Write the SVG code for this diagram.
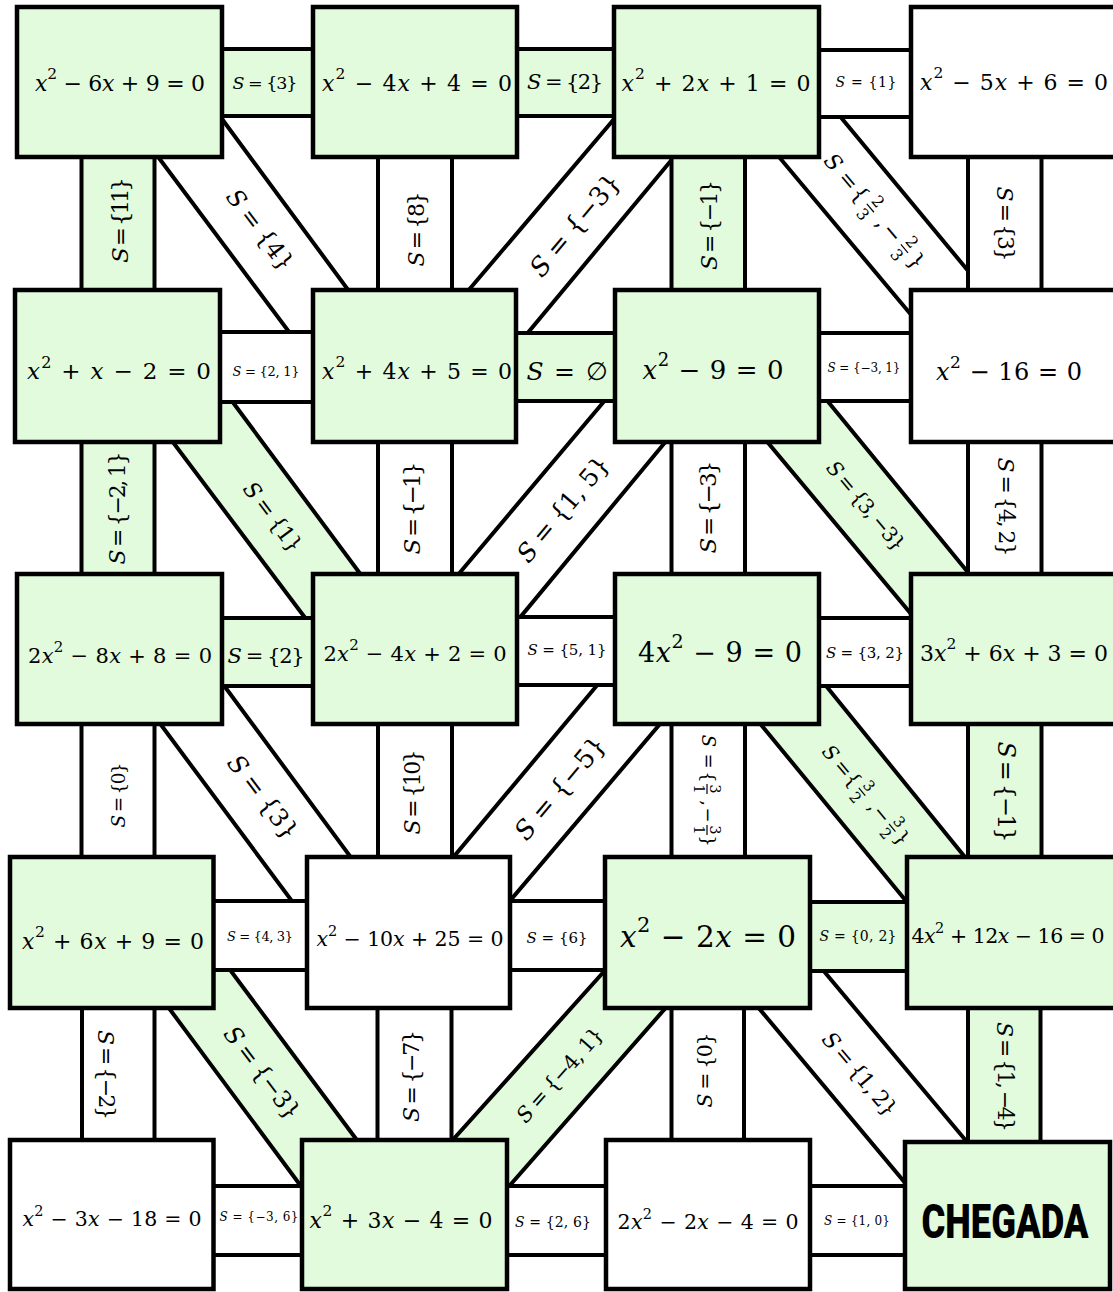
<svg xmlns="http://www.w3.org/2000/svg" width="1113" height="1292" viewBox="0 0 1113 1292">
<style>
.b{stroke:#000;stroke-width:4.5}
.c{stroke:#000;stroke-width:4}
.g{fill:#e1fbdc}
.w{fill:#fff}
text{font-family:"DejaVu Serif","Liberation Serif",serif;fill:#000;text-anchor:middle;dominant-baseline:central}
.i{font-style:italic}
.fb{stroke:#000;stroke-width:1.2}
.ch{font-family:Roboto,"Liberation Sans",sans-serif;font-weight:900}
</style>
<rect width="1113" height="1292" fill="#fff"/>
<g id="connectors">
<g id="d11"><polygon class="c w" points="211,104 360,306 301,348 147,142"/><text transform="translate(260 230) rotate(53)" font-size="24" textLength="95"><tspan class="i">S</tspan> = {4}</text></g>
<g id="d21"><polygon class="c g" points="220,385 373,591 315,631 160,425"/><text transform="translate(273 517) rotate(53)" font-size="22" textLength="82"><tspan class="i">S</tspan> = {1}</text></g>
<g id="d31"><polygon class="c w" points="214,672 361,871 303,916 150,710"/><text transform="translate(263 797) rotate(53)" font-size="25" textLength="99"><tspan class="i">S</tspan> = {3}</text></g>
<g id="d41"><polygon class="c g" points="219,955 368,1155 312,1201 157,992"/><text transform="translate(262 1073) rotate(53)" font-size="24" textLength="110"><tspan class="i">S</tspan> = {−3}</text></g>
<g id="d12"><polygon class="c w" points="626,105 456,305 516,347 684,145"/><text transform="translate(575 225) rotate(-50)" font-size="26" textLength="125"><tspan class="i">S</tspan> = {−3}</text></g>
<g id="d22"><polygon class="c w" points="617,386 446,589 508,632 677,428"/><text transform="translate(563 509) rotate(-50)" font-size="25" textLength="129"><tspan class="i">S</tspan> = {1, 5}</text></g>
<g id="d32"><polygon class="c w" points="609,671 441,872 498,915 671,711"/><text transform="translate(560 788) rotate(-50)" font-size="26" textLength="126"><tspan class="i">S</tspan> = {−5}</text></g>
<g id="d42"><polygon class="c g" points="617,957 441,1153 497,1200 677,995"/><text transform="translate(560 1075) rotate(-48.5)" font-size="21" textLength="119"><tspan class="i">S</tspan> = {−4, 1}</text></g>
<g id="d13"><polygon class="c w" points="829,103 979,284 923,329 769,145"/>
<g transform="translate(875 212) rotate(50)" font-size="22">
<text x="-65" class="i">S</text><text x="-41">=</text><text x="-23">{</text>
<text x="-6" y="-9" font-size="16">2</text><line class="fb" x1="-11.5" y1="1" x2="-0.5" y2="1"/><text x="-6" y="11" font-size="16">3</text>
<text x="12">,</text><text x="27">−</text>
<text x="47" y="-9" font-size="16">2</text><line class="fb" x1="41.5" y1="1" x2="52.5" y2="1"/><text x="47" y="11" font-size="16">3</text>
<text x="64">}</text></g></g>
<g id="d23"><polygon class="c g" points="816,387 980,587 922,627 754,426"/><text transform="translate(866 506) rotate(50)" font-size="20.5" textLength="110"><tspan class="i">S</tspan> = {3, −3}</text></g>
<g id="d33"><polygon class="c g" points="814,671 977,872 920,918 749,710"/>
<g transform="translate(866 795) rotate(50)" font-size="20">
<text x="-55" class="i">S</text><text x="-35">=</text><text x="-20">{</text>
<text x="-5" y="-8" font-size="15">3</text><line class="fb" x1="-10" y1="1" x2="0" y2="1"/><text x="-5" y="10" font-size="15">2</text>
<text x="13">,</text><text x="25">−</text>
<text x="42" y="-8" font-size="15">3</text><line class="fb" x1="37" y1="1" x2="47" y2="1"/><text x="42" y="10" font-size="15">2</text>
<text x="56">}</text></g></g>
<g id="d43"><polygon class="c w" points="812,957 978,1155 917,1197 747,994"/><text transform="translate(860 1074) rotate(50)" font-size="22" textLength="103"><tspan class="i">S</tspan> = {1, 2}</text></g>

<g id="h11"><rect class="c g" x="215" y="49" width="105" height="67"/><text x="265" y="83" font-size="17.5" textLength="65"><tspan class="i">S</tspan> = {3}</text></g>
<g id="h12"><rect class="c g" x="510" y="49" width="111" height="67"/><text x="565" y="82" font-size="21" textLength="76"><tspan class="i">S</tspan> = {2}</text></g>
<g id="h13"><rect class="c w" x="812" y="50" width="106" height="67"/><text x="866" y="82" font-size="14" textLength="61"><tspan class="i">S</tspan> = {1}</text></g>
<g id="h21"><rect class="c w" x="213" y="332" width="107" height="70"/><text x="266" y="371" font-size="13" textLength="67"><tspan class="i">S</tspan> = {2, 1}</text></g>
<g id="h22"><rect class="c g" x="509" y="333" width="113" height="68"/><text x="567" y="371" font-size="25" textLength="81"><tspan class="i">S</tspan> = ∅</text></g>
<g id="h23"><rect class="c w" x="812" y="333" width="106" height="68"/><text x="864" y="368" font-size="12" textLength="73"><tspan class="i">S</tspan> = {−3, 1}</text></g>
<g id="h31"><rect class="c g" x="215" y="618" width="105" height="68"/><text x="266" y="656" font-size="21" textLength="77"><tspan class="i">S</tspan> = {2}</text></g>
<g id="h32"><rect class="c w" x="510" y="617" width="112" height="68"/><text x="567" y="650" font-size="15" textLength="79"><tspan class="i">S</tspan> = {5, 1}</text></g>
<g id="h33"><rect class="c w" x="812" y="618" width="106" height="68"/><text x="865" y="653" font-size="15" textLength="78"><tspan class="i">S</tspan> = {3, 2}</text></g>
<g id="h41"><rect class="c w" x="206" y="901" width="108" height="69"/><text x="260" y="936" font-size="13" textLength="66"><tspan class="i">S</tspan> = {4, 3}</text></g>
<g id="h42"><rect class="c w" x="503" y="901" width="109" height="69"/><text x="557" y="938" font-size="15" textLength="61"><tspan class="i">S</tspan> = {6}</text></g>
<g id="h43"><rect class="c g" x="803" y="902" width="111" height="69"/><text x="858" y="936" font-size="14" textLength="77"><tspan class="i">S</tspan> = {0, 2}</text></g>
<g id="h51"><rect class="c w" x="206" y="1186" width="103" height="69"/><text x="259" y="1217" font-size="12" textLength="79"><tspan class="i">S</tspan> = {−3, 6}</text></g>
<g id="h52"><rect class="c w" x="500" y="1186" width="113" height="69"/><text x="553" y="1222" font-size="14" textLength="76"><tspan class="i">S</tspan> = {2, 6}</text></g>
<g id="h53"><rect class="c w" x="803" y="1186" width="109" height="69"/><text x="857" y="1221" font-size="12" textLength="66"><tspan class="i">S</tspan> = {1, 0}</text></g>

<g id="v11"><rect class="c g" x="81.5" y="150" width="73" height="147"/><text transform="translate(120 220) rotate(-90)" font-size="23" textLength="86"><tspan class="i">S</tspan> = {11}</text></g>
<g id="v12"><rect class="c w" x="378" y="150" width="74" height="147"/><text transform="translate(416 229) rotate(-90)" font-size="22" textLength="75"><tspan class="i">S</tspan> = {8}</text></g>
<g id="v13"><rect class="c g" x="671.5" y="150" width="73.5" height="147"/><text transform="translate(709 225) rotate(-90)" font-size="22" textLength="90"><tspan class="i">S</tspan> = {−1}</text></g>
<g id="v14"><rect class="c w" x="968" y="150" width="73.5" height="147"/><text transform="translate(1005 224) rotate(90)" font-size="22" textLength="75"><tspan class="i">S</tspan> = {3}</text></g>
<g id="v21"><rect class="c g" x="81.5" y="435" width="73" height="146"/><text transform="translate(117 508) rotate(-90)" font-size="22" textLength="113"><tspan class="i">S</tspan> = {−2, 1}</text></g>
<g id="v22"><rect class="c w" x="378" y="435" width="74" height="146"/><text transform="translate(412 508) rotate(-90)" font-size="23" textLength="93"><tspan class="i">S</tspan> = {−1}</text></g>
<g id="v23"><rect class="c w" x="671.5" y="435" width="73.5" height="146"/><text transform="translate(708 507) rotate(-90)" font-size="23" textLength="93"><tspan class="i">S</tspan> = {−3}</text></g>
<g id="v24"><rect class="c w" x="968" y="435" width="73.5" height="146"/><text transform="translate(1006 507) rotate(90)" font-size="22" textLength="99"><tspan class="i">S</tspan> = {4, 2}</text></g>
<g id="v31"><rect class="c w" x="81.5" y="717" width="73" height="147"/><text transform="translate(118 795) rotate(-90)" font-size="18.5" textLength="65"><tspan class="i">S</tspan> = {0}</text></g>
<g id="v32"><rect class="c w" x="378" y="717" width="74" height="147"/><text transform="translate(412 792) rotate(-90)" font-size="22" textLength="85"><tspan class="i">S</tspan> = {10}</text></g>
<g id="v33"><rect class="c w" x="671.5" y="717" width="73.5" height="147"/>
<g transform="translate(708 790) rotate(90)" font-size="18">
<text x="-49" class="i">S</text><text x="-29">=</text><text x="-13">{</text>
<text x="-1" y="-7" font-size="14">3</text><line class="fb" x1="-6" y1="1" x2="4" y2="1"/><text x="-1" y="9" font-size="14">1</text>
<text x="13">,</text><text x="25">−</text>
<text x="40" y="-7" font-size="14">3</text><line class="fb" x1="35" y1="1" x2="45" y2="1"/><text x="40" y="9" font-size="14">1</text>
<text x="51">}</text></g></g>
<g id="v34"><rect class="c g" x="968" y="717" width="73.5" height="147"/><text transform="translate(1006 792) rotate(90)" font-size="24" textLength="101"><tspan class="i">S</tspan> = {−1}</text></g>
<g id="v41"><rect class="c w" x="82" y="1001" width="72.5" height="146"/><text transform="translate(106 1075) rotate(90)" font-size="22" textLength="90"><tspan class="i">S</tspan> = {−2}</text></g>
<g id="v42"><rect class="c w" x="377.5" y="1001" width="74" height="146"/><text transform="translate(411 1076) rotate(-90)" font-size="22" textLength="92"><tspan class="i">S</tspan> = {−7}</text></g>
<g id="v43"><rect class="c w" x="671.5" y="1001" width="72.5" height="146"/><text transform="translate(705 1070) rotate(-90)" font-size="20.5" textLength="75"><tspan class="i">S</tspan> = {0}</text></g>
<g id="v44"><rect class="c g" x="968" y="1001" width="72.5" height="146"/><text transform="translate(1005 1077) rotate(90)" font-size="22" textLength="110"><tspan class="i">S</tspan> = {1, −4}</text></g>
</g>

<g id="n11"><rect class="b g" x="17" y="7" width="205" height="150"/><text x="120" y="83" font-size="22" textLength="170"><tspan class="i">x</tspan><tspan dy="-9" font-size="15.5">2</tspan><tspan dy="9"> − 6</tspan><tspan class="i">x</tspan> + 9 = 0</text></g>
<g id="n12"><rect class="b g" x="313" y="7" width="204" height="150"/><text x="417" y="83" font-size="22" textLength="190"><tspan class="i">x</tspan><tspan dy="-9" font-size="15.5">2</tspan><tspan dy="9"> − 4</tspan><tspan class="i">x</tspan> + 4 = 0</text></g>
<g id="n13"><rect class="b g" x="614" y="7" width="205" height="150"/><text x="716" y="83" font-size="22" textLength="189"><tspan class="i">x</tspan><tspan dy="-9" font-size="15.5">2</tspan><tspan dy="9"> + 2</tspan><tspan class="i">x</tspan> + 1 = 0</text></g>
<g id="n14"><rect class="b w" x="911" y="7" width="210" height="150"/><text x="1014" y="82" font-size="22" textLength="188"><tspan class="i">x</tspan><tspan dy="-9" font-size="15.5">2</tspan><tspan dy="9"> − 5</tspan><tspan class="i">x</tspan> + 6 = 0</text></g>

<g id="n21"><rect class="b g" x="15" y="290" width="205" height="152"/><text x="119" y="371" font-size="23" textLength="184"><tspan class="i">x</tspan><tspan dy="-9.5" font-size="16">2</tspan><tspan dy="9.5"> + </tspan><tspan class="i">x</tspan> − 2 = 0</text></g>
<g id="n22"><rect class="b g" x="313" y="290" width="203" height="152"/><text x="417" y="371" font-size="22" textLength="190"><tspan class="i">x</tspan><tspan dy="-9" font-size="15.5">2</tspan><tspan dy="9"> + 4</tspan><tspan class="i">x</tspan> + 5 = 0</text></g>
<g id="n23"><rect class="b g" x="615" y="290" width="204" height="152"/><text x="713" y="370" font-size="26" textLength="141"><tspan class="i">x</tspan><tspan dy="-11" font-size="18">2</tspan><tspan dy="11"> − 9 = 0</tspan></text></g>
<g id="n24"><rect class="b w" x="911" y="290" width="210" height="152"/><text x="1009" y="372" font-size="24" textLength="146"><tspan class="i">x</tspan><tspan dy="-10" font-size="17">2</tspan><tspan dy="10"> − 16 = 0</tspan></text></g>

<g id="n31"><rect class="b g" x="17" y="574" width="205" height="150"/><text x="120" y="656" font-size="21" textLength="184">2<tspan class="i">x</tspan><tspan dy="-9" font-size="15">2</tspan><tspan dy="9"> − 8</tspan><tspan class="i">x</tspan> + 8 = 0</text></g>
<g id="n32"><rect class="b g" x="313" y="574" width="204" height="150"/><text x="415" y="654" font-size="21" textLength="183">2<tspan class="i">x</tspan><tspan dy="-9" font-size="15">2</tspan><tspan dy="9"> − 4</tspan><tspan class="i">x</tspan> + 2 = 0</text></g>
<g id="n33"><rect class="b g" x="615" y="574" width="204" height="150"/><text x="720" y="652" font-size="27" textLength="164">4<tspan class="i">x</tspan><tspan dy="-11.5" font-size="19">2</tspan><tspan dy="11.5"> − 9 = 0</tspan></text></g>
<g id="n34"><rect class="b g" x="911" y="574" width="210" height="150"/><text x="1014" y="653" font-size="22" textLength="188">3<tspan class="i">x</tspan><tspan dy="-9" font-size="15.5">2</tspan><tspan dy="9"> + 6</tspan><tspan class="i">x</tspan> + 3 = 0</text></g>

<g id="n41"><rect class="b g" x="10" y="857" width="203.5" height="151"/><text x="113" y="941" font-size="22" textLength="182"><tspan class="i">x</tspan><tspan dy="-9" font-size="15.5">2</tspan><tspan dy="9"> + 6</tspan><tspan class="i">x</tspan> + 9 = 0</text></g>
<g id="n42"><rect class="b w" x="307" y="857" width="203" height="151"/><text x="410" y="939" font-size="20.5" textLength="187"><tspan class="i">x</tspan><tspan dy="-8.5" font-size="14.5">2</tspan><tspan dy="8.5"> − 10</tspan><tspan class="i">x</tspan> + 25 = 0</text></g>
<g id="n43"><rect class="b g" x="605" y="857" width="205" height="151"/><text x="708" y="937" font-size="29.5" textLength="176"><tspan class="i">x</tspan><tspan dy="-12.5" font-size="21">2</tspan><tspan dy="12.5"> − 2</tspan><tspan class="i">x</tspan> = 0</text></g>
<g id="n44"><rect class="b g" x="907" y="857" width="214" height="151"/><text x="1008" y="936" font-size="20.5" textLength="193">4<tspan class="i">x</tspan><tspan dy="-8.5" font-size="14.5">2</tspan><tspan dy="8.5"> + 12</tspan><tspan class="i">x</tspan> − 16 = 0</text></g>

<g id="n51"><rect class="b w" x="10" y="1140" width="203.5" height="149"/><text x="112" y="1219" font-size="20.5" textLength="179"><tspan class="i">x</tspan><tspan dy="-8.5" font-size="14.5">2</tspan><tspan dy="8.5"> − 3</tspan><tspan class="i">x</tspan> − 18 = 0</text></g>
<g id="n52"><rect class="b g" x="302" y="1140" width="205" height="149"/><text x="401" y="1220" font-size="22" textLength="183"><tspan class="i">x</tspan><tspan dy="-9" font-size="15.5">2</tspan><tspan dy="9"> + 3</tspan><tspan class="i">x</tspan> − 4 = 0</text></g>
<g id="n53"><rect class="b w" x="606" y="1140" width="204" height="149"/><text x="708" y="1222" font-size="20.5" textLength="181">2<tspan class="i">x</tspan><tspan dy="-8.5" font-size="14.5">2</tspan><tspan dy="8.5"> − 2</tspan><tspan class="i">x</tspan> − 4 = 0</text></g>
<g id="n54"><rect class="b g" x="905" y="1142" width="205" height="147"/><text class="ch" transform="translate(1005 1221) scale(0.668 1)" font-size="49" textLength="250" lengthAdjust="spacingAndGlyphs">CHEGADA</text></g>
</svg>
